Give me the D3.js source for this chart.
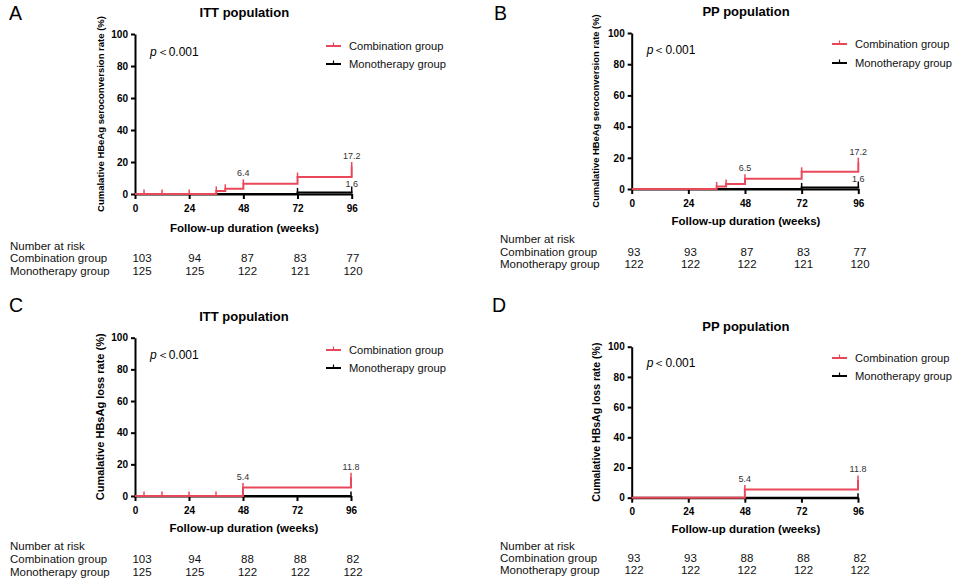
<!DOCTYPE html>
<html>
<head>
<meta charset="utf-8">
<script src="https://cdn.jsdelivr.net/npm/d3@7"></script>
<style>
  body { margin: 0; background: #fff; }
  svg { display: block; font-family: "Liberation Sans", Arial, sans-serif; }
</style>
</head>
<body>
<svg id="chart" width="963" height="582"></svg>
<script>
// ---- data ----
const weekTicks = [0, 24, 48, 72, 96];
const rateTicks = [0, 20, 40, 60, 80, 100];
const groupNames = ["Combination group", "Monotherapy group"];

// cumulative rate (%) steps: [week, rate]
const comboSeroITT = [[0, 0], [36, 1.9], [40, 3.3], [48, 6.4], [72, 10.6], [96, 17.2]];
const comboSeroPP = [[0, 0], [36, 1.6], [40, 3.2], [48, 6.5], [72, 11.0], [96, 17.2]];
const monoSero = [[0, 0], [72, 1.0], [96, 1.6]];
const comboLossITT = [[0, 0], [48, 5.4], [96, 11.8]];
const comboLossPP = [[0, 0], [48, 5.4], [96, 11.8]];
const monoLoss = [[0, 0], [96, 0]];

// censor marks (weeks)
const censorSeroITT = [4, 12, 24, 36, 40, 48, 72, 96];
const censorSeroPP = [36, 40, 48, 72, 96];
const censorMonoSero = [72, 96];
const censorLossITT = [4, 12, 24, 36, 48, 96];
const censorLossPP = [48, 96];
const censorMonoLoss = [96];

// printed values
const labelsSeroITT = [[48, 6.4], [96, 17.2]];
const labelsSeroPP = [[48, 6.5], [96, 17.2]];
const labelsMonoSero = [[96, 1.6]];
const labelsLoss = [[48, 5.4], [96, 11.8]];

// number at risk
const riskSeroITTCombo = [103, 94, 87, 83, 77];
const riskSeroITTMono = [125, 125, 122, 121, 120];
const riskSeroPPCombo = [93, 93, 87, 83, 77];
const riskSeroPPMono = [122, 122, 122, 121, 120];
const riskLossITTCombo = [103, 94, 88, 88, 82];
const riskLossITTMono = [125, 125, 122, 122, 122];
const riskLossPPCombo = [93, 93, 88, 88, 82];
const riskLossPPMono = [122, 122, 122, 122, 122];

const red = "#e9485a";

const panels = [
	{letter: "A", title: "ITT population", yTitle: "Cumalative HBeAg seroconversion rate (%)", yTitleSize: 9.5,
		combo: comboSeroITT, comboCensor: censorSeroITT, mono: monoSero, monoCensor: censorMonoSero,
		comboLabels: labelsSeroITT, monoLabels: labelsMonoSero, risk: [riskSeroITTCombo, riskSeroITTMono],
		box: {left: 135, right: 351.7, top: 34, bottom: 194, letterX: 9, letterY: 20, titleY: 16.5, xTitleY: 232,
			yTitleX: 101, pY: 56, legY: [46, 64], legX: 326, riskLX: 10, riskY: [250, 262, 275], riskX: [142, 353]}},
	{letter: "B", title: "PP population", yTitle: "Cumalative HBeAg seroconversion rate (%)", yTitleSize: 9.4,
		combo: comboSeroPP, comboCensor: censorSeroPP, mono: monoSero, monoCensor: censorMonoSero,
		comboLabels: labelsSeroPP, monoLabels: labelsMonoSero, risk: [riskSeroPPCombo, riskSeroPPMono],
		box: {left: 631.7, right: 858.3, top: 33, bottom: 189, letterX: 494, letterY: 20, titleY: 15.5, xTitleY: 225,
			yTitleX: 596, pY: 54, legY: [44, 63], legX: 832, riskLX: 500, riskY: [243, 256, 268], riskX: [634, 860]}},
	{letter: "C", title: "ITT population", yTitle: "Cumalative HBsAg loss rate (%)", yTitleSize: 11,
		combo: comboLossITT, comboCensor: censorLossITT, mono: monoLoss, monoCensor: censorMonoLoss,
		comboLabels: labelsLoss, monoLabels: [], risk: [riskLossITTCombo, riskLossITTMono],
		box: {left: 135, right: 351, top: 337.7, bottom: 496, letterX: 9, letterY: 312, titleY: 320.5, xTitleY: 532,
			yTitleX: 100, pY: 359, legY: [350, 368], legX: 326, riskLX: 10, riskY: [550, 563, 576], riskX: [142, 353]}},
	{letter: "D", title: "PP population", yTitle: "Cumalative HBsAg loss rate (%)", yTitleSize: 10.5,
		combo: comboLossPP, comboCensor: censorLossPP, mono: monoLoss, monoCensor: censorMonoLoss,
		comboLabels: labelsLoss, monoLabels: [], risk: [riskLossPPCombo, riskLossPPMono],
		box: {left: 631.7, right: 858, top: 346.7, bottom: 497.7, letterX: 492, letterY: 312, titleY: 330.5, xTitleY: 533,
			yTitleX: 596, pY: 367, legY: [358, 376], legX: 832, riskLX: 500, riskY: [550, 562, 574], riskX: [634, 860]}}
];

const svg = d3.select("#chart");

const drawPanel = (p) => {
	const b = p.box;
	const g = svg.append("g");

	const x = d3.scaleLinear().domain([0, 96]).range([b.left, b.right]);
	const y = d3.scaleLinear().domain([0, 100]).range([b.bottom, b.top]);
	const riskX = d3.scaleLinear().domain([0, 96]).range(b.riskX);

	// letter and title
	g.append("text").attr("x", b.letterX).attr("y", b.letterY)
		.attr("font-size", 19.5).text(p.letter);
	g.append("text").attr("x", (b.left + b.right) / 2 + 1).attr("y", b.titleY)
		.attr("text-anchor", "middle").attr("font-size", 13).attr("font-weight", "bold").text(p.title);

	// axes
	const yAxis = g.append("g").attr("transform", `translate(${b.left},0)`)
		.call(d3.axisLeft(y).tickValues(rateTicks).tickSize(4).tickSizeOuter(0).tickPadding(3));
	const xAxis = g.append("g").attr("transform", `translate(0,${b.bottom})`)
		.call(d3.axisBottom(x).tickValues(weekTicks).tickSize(5).tickSizeOuter(0).tickPadding(5.5));
	[yAxis, xAxis].forEach(ax => {
		ax.attr("font-family", null).attr("font-size", 10).attr("font-weight", "bold");
		ax.select(".domain").attr("stroke-width", 2).attr("stroke", "#000");
		ax.selectAll(".tick line").attr("stroke-width", 2).attr("stroke", "#000");
		ax.selectAll(".tick text").attr("fill", "#000");
	});

	// axis titles
	g.append("text").attr("x", (b.left + b.right) / 2 + 1).attr("y", b.xTitleY)
		.attr("text-anchor", "middle").attr("font-size", 11.5).attr("font-weight", "bold")
		.text("Follow-up duration (weeks)");
	g.append("text")
		.attr("transform", `translate(${b.yTitleX},${(b.top + b.bottom) / 2}) rotate(-90)`)
		.attr("text-anchor", "middle").attr("dy", "0.35em")
		.attr("font-size", p.yTitleSize).attr("font-weight", "bold").text(p.yTitle);

	// p value
	const pv = g.append("text").attr("x", b.left + 15).attr("y", b.pY).attr("font-size", 12);
	pv.append("tspan").attr("font-style", "italic").text("p");
	pv.append("tspan").text("\uFF1C0.001");

	// step curves
	const step = d3.line().x(d => x(d[0])).y(d => y(d[1])).curve(d3.curveStepAfter);
	const levelAt = (series, t) => {
		let v = 0;
		series.forEach(d => { if (d[0] <= t) v = d[1]; });
		return v;
	};
	const drawCurve = (series, censor, colour) => {
		g.append("path").datum(series).attr("d", step)
			.attr("fill", "none").attr("stroke", colour).attr("stroke-width", 2);
		g.selectAll(null).data(censor).join("line")
			.attr("x1", t => x(t)).attr("x2", t => x(t))
			.attr("y1", t => y(levelAt(series, t)) - 4.5)
			.attr("y2", t => y(levelAt(series, t)) + 0.5)
			.attr("stroke", colour).attr("stroke-width", 1.5);
	};
	drawCurve(p.mono, p.monoCensor, "#000");
	drawCurve(p.combo, p.comboCensor, red);

	// printed values
	g.selectAll(null).data(p.comboLabels).join("text")
		.attr("x", d => x(d[0])).attr("y", d => y(d[1]) - 7.5)
		.attr("text-anchor", "middle").attr("font-size", 9).attr("fill", "#333")
		.text(d => d[1].toFixed(1));
	g.selectAll(null).data(p.monoLabels).join("text")
		.attr("x", d => x(d[0])).attr("y", d => y(d[1]) - 4.5)
		.attr("text-anchor", "middle").attr("font-size", 9).attr("fill", "#333")
		.text(d => d[1].toFixed(1));

	// legend
	const legend = g.append("g");
	[red, "#000"].forEach((c, i) => {
		const ly = b.legY[i];
		legend.append("line").attr("x1", b.legX).attr("x2", b.legX + 15).attr("y1", ly).attr("y2", ly)
			.attr("stroke", c).attr("stroke-width", 2);
		legend.append("line").attr("x1", b.legX + 7.5).attr("x2", b.legX + 7.5).attr("y1", ly - 3.5).attr("y2", ly)
			.attr("stroke", c).attr("stroke-width", 1.2);
		legend.append("text").attr("x", b.legX + 23).attr("y", ly).attr("dy", "0.35em")
			.attr("font-size", 11.2).attr("fill", "#111").text(groupNames[i]);
	});

	// number at risk table
	const risk = g.append("g").attr("font-size", 11.5).attr("fill", "#111");
	risk.append("text").attr("x", b.riskLX).attr("y", b.riskY[0]).text("Number at risk");
	p.risk.forEach((row, i) => {
		risk.append("text").attr("x", b.riskLX).attr("y", b.riskY[i + 1]).text(groupNames[i]);
		risk.selectAll(null).data(row).join("text")
			.attr("x", (d, j) => riskX(weekTicks[j])).attr("y", b.riskY[i + 1])
			.attr("text-anchor", "middle").text(d => d);
	});
};

panels.forEach(drawPanel);
</script>
</body>
</html>
